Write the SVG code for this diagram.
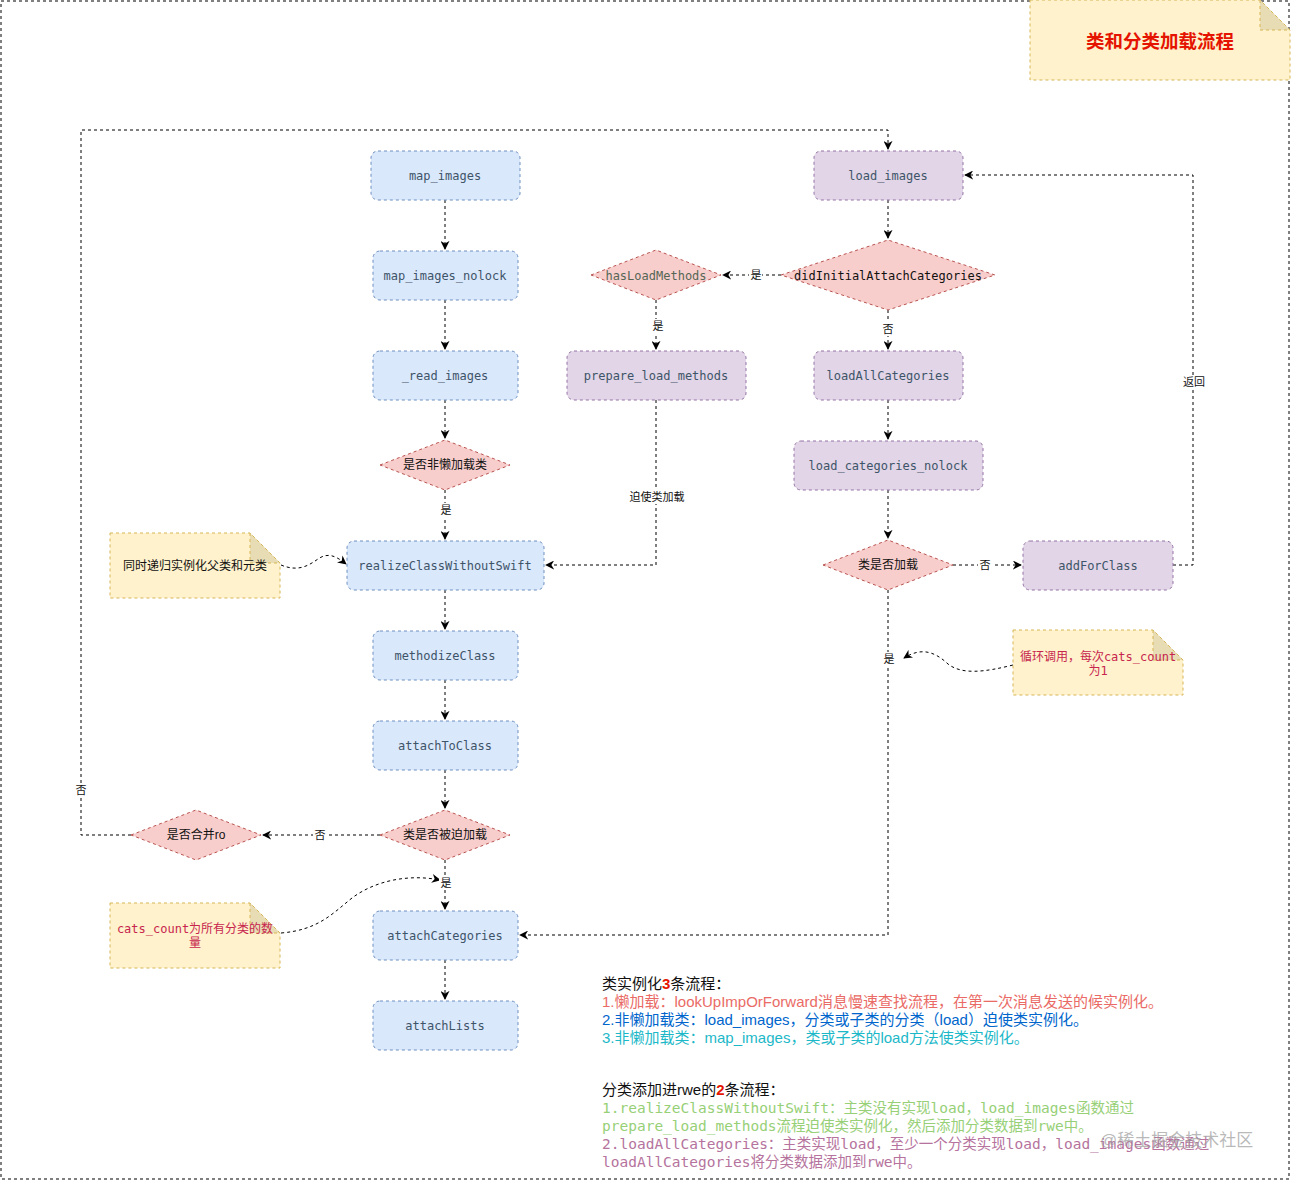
<svg xmlns="http://www.w3.org/2000/svg" width="1291" height="1181" viewBox="0 0 1291 1181">
<defs>
<marker id="arr" viewBox="0 0 10 10" refX="9" refY="5" markerWidth="9" markerHeight="9" markerUnits="userSpaceOnUse" orient="auto">
<path d="M0,0 L10,5 L0,10 L3,5 Z" fill="#000"/>
</marker>
<style>
.blue{fill:#dae8fc;stroke:#6c8ebf;stroke-dasharray:3 3;stroke-width:1}
.purple{fill:#e1d5e7;stroke:#9673a6;stroke-dasharray:3 3;stroke-width:1}
.red{fill:#f8cecc;stroke:#b85450;stroke-dasharray:3 3;stroke-width:1}
.note{fill:#fff2cc;stroke:#d6b656;stroke-dasharray:3 3;stroke-width:1}
.fold{fill:#e8dcb5;stroke:#d6b656;stroke-dasharray:3 3;stroke-width:1}
.edge{fill:none;stroke:#000;stroke-dasharray:3 3;stroke-width:1}
.mono{font-family:"DejaVu Sans Mono","Liberation Mono","Noto Sans CJK SC",monospace;font-size:12px;fill:#3e5468;text-anchor:middle;dominant-baseline:central}
.cn{font-family:"Liberation Sans","Noto Sans CJK SC",sans-serif;font-size:12px;fill:#111;text-anchor:middle;dominant-baseline:central}
.lbl{font-family:"Liberation Sans","Noto Sans CJK SC",sans-serif;font-size:11px;fill:#111;text-anchor:middle;dominant-baseline:central}
.lbg{fill:#fff;stroke:none}
.txt{font-family:"Liberation Sans","Noto Sans CJK SC",sans-serif;font-size:15px}
.mtxt{font-family:"DejaVu Sans Mono","Liberation Mono","Noto Sans CJK SC",monospace;font-size:14.5px}
</style>
</defs>
<rect x="0" y="0" width="1291" height="1181" fill="#fff"/>
<rect x="1" y="1" width="1288" height="1178" fill="none" stroke="#000" stroke-dasharray="3 3"/>

<g id="title">
<path class="note" d="M1030,0 H1260 L1290,30 V80 H1030 Z"/>
<path class="fold" d="M1260,0 V30 H1290 Z"/>
<text x="1160" y="41" font-family="'Liberation Sans','Noto Sans CJK SC',sans-serif" font-size="18.5" font-weight="bold" fill="#e51400" text-anchor="middle" dominant-baseline="central">类和分类加载流程</text>
</g>

<g id="connectors">
<path class="edge" d="M445,200 V249" marker-end="url(#arr)"/>
<path class="edge" d="M445,300 V349" marker-end="url(#arr)"/>
<path class="edge" d="M445,400 V438" marker-end="url(#arr)"/>
<path class="edge" d="M445,490 V539" marker-end="url(#arr)"/>
<path class="edge" d="M445,590 V629" marker-end="url(#arr)"/>
<path class="edge" d="M445,680 V719" marker-end="url(#arr)"/>
<path class="edge" d="M445,770 V808" marker-end="url(#arr)"/>
<path class="edge" d="M380,835 H263" marker-end="url(#arr)"/>
<path class="edge" d="M131,835 H81 V130 H888 V149" marker-end="url(#arr)"/>
<path class="edge" d="M445,860 V909" marker-end="url(#arr)"/>
<path class="edge" d="M445,960 V999" marker-end="url(#arr)"/>
<path class="edge" d="M888,200 V238" marker-end="url(#arr)"/>
<path class="edge" d="M781,275 H723" marker-end="url(#arr)"/>
<path class="edge" d="M656,300 V349" marker-end="url(#arr)"/>
<path class="edge" d="M656,400 V565 H546" marker-end="url(#arr)"/>
<path class="edge" d="M888,310 V349" marker-end="url(#arr)"/>
<path class="edge" d="M888,400 V439" marker-end="url(#arr)"/>
<path class="edge" d="M888,490 V538" marker-end="url(#arr)"/>
<path class="edge" d="M953,565 H1021" marker-end="url(#arr)"/>
<path class="edge" d="M1173,565 H1193 V175 H965" marker-end="url(#arr)"/>
<path class="edge" d="M888,590 V935 H520" marker-end="url(#arr)"/>
<path class="edge" d="M281,565 C298,572 308,566 318,559 C328,552 336,556 346,564" marker-end="url(#arr)"/>
<path class="edge" d="M1013,665 C985,672 962,675 948,664 C933,650 920,648 904,658" marker-end="url(#arr)"/>
<path class="edge" d="M281,933 C318,930 332,914 352,898 C376,880 410,874 440,880" marker-end="url(#arr)"/>
<rect class="lbg" x="439" y="503" width="13" height="14"/>
<text class="lbl" x="446" y="510">是</text>
<rect class="lbg" x="313" y="828" width="14" height="14"/>
<text class="lbl" x="320" y="835">否</text>
<rect class="lbg" x="74" y="783" width="14" height="14"/>
<text class="lbl" x="81" y="790">否</text>
<rect class="lbg" x="439" y="876" width="13" height="14"/>
<text class="lbl" x="446" y="883">是</text>
<rect class="lbg" x="749" y="268" width="13" height="14"/>
<text class="lbl" x="756" y="275">是</text>
<rect class="lbg" x="650" y="319" width="13" height="14"/>
<text class="lbl" x="658" y="326">是</text>
<rect class="lbg" x="628" y="490" width="58" height="14"/>
<text class="lbl" x="657" y="497">迫使类加载</text>
<rect class="lbg" x="882" y="322" width="13" height="14"/>
<text class="lbl" x="888" y="329">否</text>
<rect class="lbg" x="978" y="558" width="14" height="14"/>
<text class="lbl" x="985" y="565">否</text>
<rect class="lbg" x="1182" y="375" width="24" height="14"/>
<text class="lbl" x="1194" y="382">返回</text>
<rect class="lbg" x="882" y="652" width="14" height="14"/>
<text class="lbl" x="889" y="659">是</text>
</g>

<g id="map_images"><rect class="blue" x="371" y="151" width="149" height="49" rx="7"/><text class="mono" x="445" y="176">map_images</text></g>
<g id="map_images_nolock"><rect class="blue" x="373" y="251" width="145" height="49" rx="7"/><text class="mono" x="445" y="276">map_images_nolock</text></g>
<g id="read_images"><rect class="blue" x="373" y="351" width="145" height="49" rx="7"/><text class="mono" x="445" y="376">_read_images</text></g>
<g id="is_nonlazy"><polygon class="red" points="380,465 445,440 510,465 445,490"/><text class="cn" x="445" y="465">是否非懒加载类</text></g>
<g id="realizeClassWithoutSwift"><rect class="blue" x="347" y="541" width="197" height="49" rx="7"/><text class="mono" x="445" y="566">realizeClassWithoutSwift</text></g>
<g id="methodizeClass"><rect class="blue" x="373" y="631" width="145" height="49" rx="7"/><text class="mono" x="445" y="656">methodizeClass</text></g>
<g id="attachToClass"><rect class="blue" x="373" y="721" width="145" height="49" rx="7"/><text class="mono" x="445" y="746">attachToClass</text></g>
<g id="is_forced"><polygon class="red" points="380,835 445,810 510,835 445,860"/><text class="cn" x="445" y="835">类是否被迫加载</text></g>
<g id="merge_ro"><polygon class="red" points="131,835 196,810 261,835 196,860"/><text class="cn" x="196" y="835">是否合并ro</text></g>
<g id="attachCategories"><rect class="blue" x="373" y="911" width="145" height="49" rx="7"/><text class="mono" x="445" y="936">attachCategories</text></g>
<g id="attachLists"><rect class="blue" x="373" y="1001" width="145" height="49" rx="7"/><text class="mono" x="445" y="1026">attachLists</text></g>

<g id="load_images"><rect class="purple" x="814" y="151" width="149" height="49" rx="7"/><text class="mono" x="888" y="176">load_images</text></g>
<g id="didInitialAttachCategories"><polygon class="red" points="781,275 888,240 995,275 888,310"/><text class="mono" x="888" y="276" style="fill:#111">didInitialAttachCategories</text></g>
<g id="hasLoadMethods"><polygon class="red" points="591,275 656,250 721,275 656,300"/><text class="mono" x="656" y="276" style="fill:#556655">hasLoadMethods</text></g>
<g id="prepare_load_methods"><rect class="purple" x="567" y="351" width="179" height="49" rx="7"/><text class="mono" x="656" y="376">prepare_load_methods</text></g>
<g id="loadAllCategories"><rect class="purple" x="814" y="351" width="149" height="49" rx="7"/><text class="mono" x="888" y="376">loadAllCategories</text></g>
<g id="load_categories_nolock"><rect class="purple" x="794" y="441" width="189" height="49" rx="7"/><text class="mono" x="888" y="466">load_categories_nolock</text></g>
<g id="is_loaded"><polygon class="red" points="823,565 888,540 953,565 888,590"/><text class="cn" x="888" y="565">类是否加载</text></g>
<g id="addForClass"><rect class="purple" x="1023" y="541" width="150" height="49" rx="7"/><text class="mono" x="1098" y="566">addForClass</text></g>

<g id="note_recursive">
<path class="note" d="M110,533 H250 L280,563 V598 H110 Z"/>
<path class="fold" d="M250,533 V563 H280 Z"/>
<text class="cn" x="195" y="566">同时递归实例化父类和元类</text>
</g>
<g id="note_loop">
<path class="note" d="M1013,630 H1153 L1183,660 V695 H1013 Z"/>
<path class="fold" d="M1153,630 V660 H1183 Z"/>
<text class="mono" x="1098" y="657" style="fill:#c7254e">循环调用，每次cats_count</text>
<text class="mono" x="1098" y="671" style="fill:#c7254e">为1</text>
</g>
<g id="note_count">
<path class="note" d="M110,903 H250 L280,933 V968 H110 Z"/>
<path class="fold" d="M250,903 V933 H280 Z"/>
<text class="mono" x="195" y="929" style="fill:#c7254e">cats_count为所有分类的数</text>
<text class="mono" x="195" y="943" style="fill:#c7254e">量</text>
</g>

<g id="summary">
<text class="txt" x="602" y="989" fill="#111">类实例化<tspan fill="#e51400" font-weight="bold">3</tspan>条流程：</text>
<text class="txt" x="602" y="1007" fill="#ea6b66">1.懒加载：lookUpImpOrForward消息慢速查找流程，在第一次消息发送的候实例化。</text>
<text class="txt" x="602" y="1025" fill="#0066cc">2.非懒加载类：load_images，分类或子类的分类（load）迫使类实例化。</text>
<text class="txt" x="602" y="1043" fill="#1cb8c8">3.非懒加载类：map_images，类或子类的load方法使类实例化。</text>
<text class="txt" x="602" y="1095" fill="#111">分类添加进rwe的<tspan fill="#e51400" font-weight="bold">2</tspan>条流程：</text>
<text class="mtxt" x="602" y="1113" fill="#97d077">1.realizeClassWithoutSwift：主类没有实现load，load_images函数通过</text>
<text class="mtxt" x="602" y="1131" fill="#97d077">prepare_load_methods流程迫使类实例化，然后添加分类数据到rwe中。</text>
<text class="mtxt" x="602" y="1149" fill="#b5739d">2.loadAllCategories：主类实现load，至少一个分类实现load，load_images函数通过</text>
<text class="mtxt" x="602" y="1167" fill="#b5739d">loadAllCategories将分类数据添加到rwe中。</text>
<text x="1100" y="1146" font-family="'Liberation Sans','Noto Sans CJK SC',sans-serif" font-size="17" fill="#9a9a9a" fill-opacity="0.7">@稀土掘金技术社区</text>
</g>
</svg>
